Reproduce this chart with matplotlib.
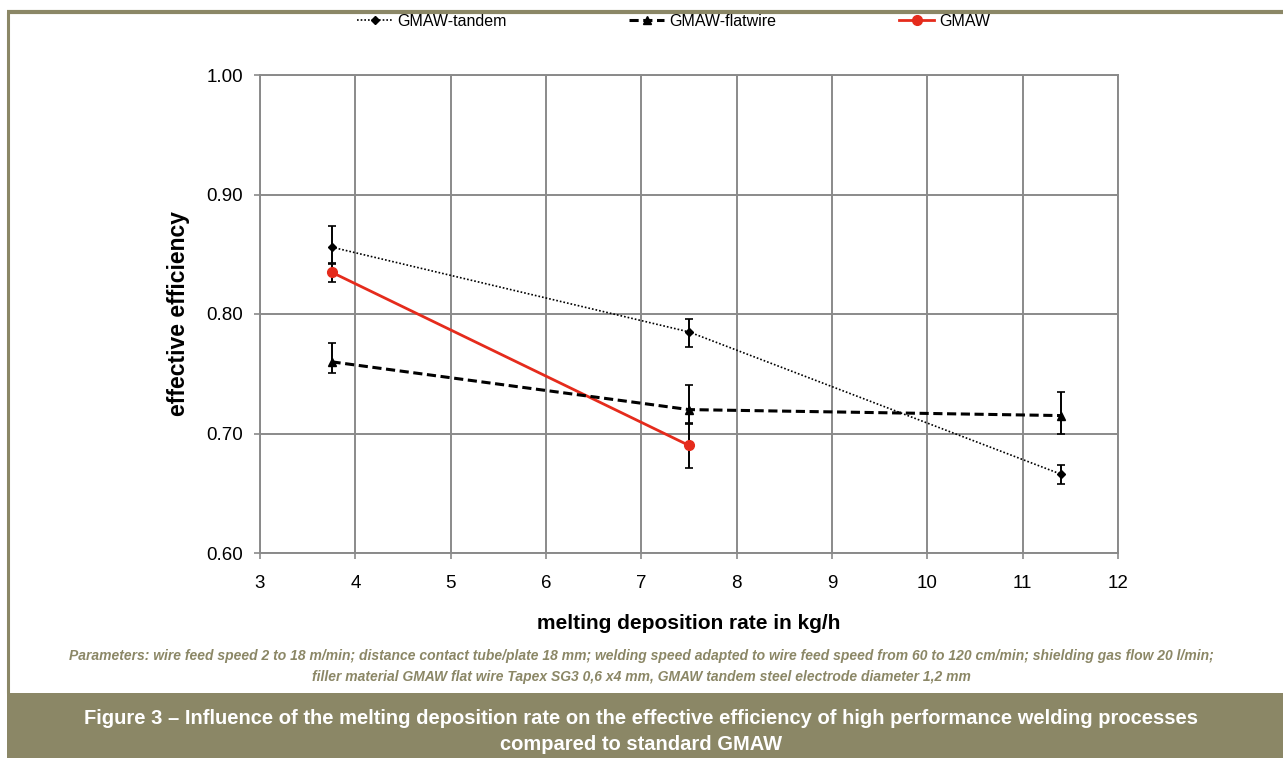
import matplotlib
matplotlib.use("Agg")
import matplotlib.pyplot as plt
from matplotlib.patches import Rectangle
from matplotlib.lines import Line2D

plt.rcParams["font.family"] = ["Liberation Sans", "DejaVu Sans"]

# data
rate_tandem = [3.75, 7.5, 11.4]
eff_tandem = [0.856, 0.785, 0.666]
err_tandem_lo = [0.013, 0.013, 0.008]
err_tandem_hi = [0.018, 0.011, 0.008]

rate_flat = [3.75, 7.5, 11.4]
eff_flat = [0.760, 0.720, 0.715]
err_flat_lo = [0.009, 0.012, 0.015]
err_flat_hi = [0.016, 0.021, 0.020]

rate_gmaw = [3.75, 7.5]
eff_gmaw = [0.835, 0.690]
err_gmaw_lo = [0.008, 0.019]
err_gmaw_hi = [0.007, 0.019]

xticks = [3, 4, 5, 6, 7, 8, 9, 10, 11, 12]
yticks = [0.60, 0.70, 0.80, 0.90, 1.00]

olive = "#8b8766"
gridc = "#8a8a8a"
red = "#e52b1c"

fig = plt.figure(figsize=(12.83, 7.58), dpi=100)

# frame lines and caption box
fig.add_artist(Line2D([7 / 1283, 1], [1 - 12 / 758, 1 - 12 / 758], color=olive, lw=3,
                      transform=fig.transFigure, solid_capstyle="butt"))
fig.add_artist(Line2D([8 / 1283, 8 / 1283], [1 - 12 / 758, 1 - 693 / 758], color=olive, lw=2.2,
                      transform=fig.transFigure, solid_capstyle="butt"))
fig.add_artist(Rectangle((7 / 1283, 0), 1 - 7 / 1283, 1 - 693 / 758, transform=fig.transFigure,
                         facecolor=olive, edgecolor="none"))

ax = fig.add_axes([260 / 1283, 1 - 553 / 758, 858 / 1283, 478 / 758])

tandem_style = dict(color="black", ls=(0, (1, 1.2)), lw=1.2, marker="D", ms=4)
flat_style = dict(color="black", ls=(0, (3, 1.5)), lw=2.2, marker="^", ms=6)
gmaw_style = dict(color=red, ls="-", lw=2, marker="o", ms=7)
err_style = dict(capsize=3, elinewidth=1.4, capthick=1.2, ecolor="black")

ax.errorbar(rate_tandem, eff_tandem, yerr=[err_tandem_lo, err_tandem_hi], zorder=4,
            **tandem_style, **err_style)
ax.errorbar(rate_flat, eff_flat, yerr=[err_flat_lo, err_flat_hi], zorder=4,
            **flat_style, **err_style)
ax.errorbar(rate_gmaw, eff_gmaw, yerr=[err_gmaw_lo, err_gmaw_hi], zorder=3,
            **gmaw_style, **err_style)

ax.set_xlim(3, 12)
ax.set_ylim(0.60, 1.00)
ax.set_xticks(xticks)
ax.set_yticks(yticks)
ax.set_yticklabels([f"{v:.2f}" for v in yticks])
ax.grid(True, color=gridc, lw=1.4)
ax.set_axisbelow(True)
for s in ax.spines.values():
    s.set_color(gridc)
    s.set_linewidth(1.4)
ax.tick_params(axis="both", labelsize=13.5, color=gridc, length=4, width=1.2, pad=8)
ax.tick_params(axis="x", pad=12)

ax.set_xlabel("melting deposition rate in kg/h", fontsize=15, fontweight="bold", labelpad=16)
ax.set_ylabel("effective efficiency", fontsize=16.5, fontweight="bold", labelpad=12)

handles = [Line2D([], [], **tandem_style), Line2D([], [], **flat_style), Line2D([], [], **gmaw_style)]
labels = ["GMAW-tandem", "GMAW-flatwire", "GMAW"]
fig.legend(handles, labels, loc="center", bbox_to_anchor=(0.525, 1 - 21 / 758), ncol=3,
           frameon=False, fontsize=11.5, columnspacing=7.7, handlelength=2.2, handletextpad=0.3)

fig.text(0.5, 1 - 656 / 758,
         "Parameters: wire feed speed 2 to 18 m/min; distance contact tube/plate 18 mm; welding speed adapted to wire feed speed from 60 to 120 cm/min; shielding gas flow 20 l/min;",
         ha="center", va="center", fontsize=10, style="italic", fontweight="bold", color=olive)
fig.text(0.5, 1 - 677 / 758,
         "filler material GMAW flat wire Tapex SG3 0,6 x4 mm, GMAW tandem steel electrode diameter 1,2 mm",
         ha="center", va="center", fontsize=10, style="italic", fontweight="bold", color=olive)

fig.text(0.5, 1 - 719 / 758,
         "Figure 3 \u2013 Influence of the melting deposition rate on the effective efficiency of high performance welding processes",
         ha="center", va="center", fontsize=14.5, fontweight="bold", color="white")
fig.text(0.5, 1 - 744 / 758, "compared to standard GMAW",
         ha="center", va="center", fontsize=14.5, fontweight="bold", color="white")

fig.savefig("out.png", dpi=100)
